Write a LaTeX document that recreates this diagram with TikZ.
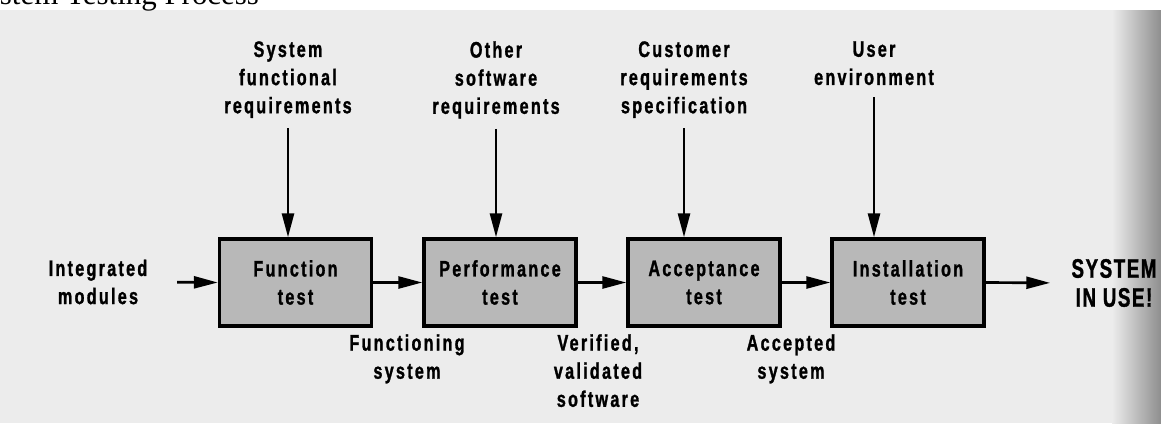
\documentclass[tikz,border=0pt]{standalone}
\usepackage{fontspec}
\setmainfont{Liberation Serif}
\newfontfamily\lblfont{Liberation Sans}[UprightFont=* Bold, FakeStretch=0.72, FakeBold=1.2, LetterSpace=10]
\newfontfamily\endfont{Liberation Sans}[UprightFont=* Bold, FakeStretch=0.7, FakeBold=1.2, LetterSpace=6]
\usepackage{tikz}
\usetikzlibrary{arrows.meta}
\definecolor{paper}{HTML}{ECECEC}
\definecolor{boxgray}{HTML}{B8B8B8}
\definecolor{edge}{HTML}{8E8E8E}

\begin{document}
\begin{tikzpicture}[
        x=0.025cm, y=-0.025cm,
        font=\lblfont\fontsize{16}{20}\selectfont,
        testbox/.style={draw, line width=2.4pt, fill=boxgray, align=center, minimum width=3.8cm, minimum height=2.175cm, inner sep=0pt},
        lbl/.style={align=center, inner sep=0pt},
        line/.style={line width=1.9pt, -{Triangle[length=17pt, width=8.5pt]}}
    ]

    % PAGE
    \useasboundingbox (0,0) rectangle (1161,423);
    \clip (0,0) rectangle (1161,423);
    \fill[white] (0,0) rectangle (1161,10);
    \fill[paper] (0,10) rectangle (1161,423);
    \shade[left color=paper, right color=edge] (1112,10) rectangle (1161,423);

    % TITLE
    \node[anchor=base west, inner sep=0pt, font=\rmfamily\fontsize{22}{24}\selectfont] (title) at (-33,4) {System Testing Process};

    % TESTS
    \node[testbox] (function) at (295.5,282.5) {Function\\ test};
    \node[testbox] (perform) at (500,282.5) {Performance\\ test};
    \node[testbox] (accept) at (704,282.5) {Acceptance\\ test};
    \node[testbox] (install) at (908,282.5) {Installation\\ test};

    % INPUTS
    \node[lbl, anchor=north] (sysreq) at (288,41) {System\\ functional\\ requirements};
    \node[lbl, anchor=north] (otherreq) at (496,41) {Other\\ software\\ requirements};
    \node[lbl, anchor=north] (custreq) at (684,41) {Customer\\ requirements\\ specification};
    \node[lbl, anchor=north] (userenv) at (874,41) {User\\ environment};

    % START AND END
    \node[lbl] (modules) at (98,282) {Integrated\\ modules};
    \node[lbl, font=\endfont\fontsize{19}{20.6}\selectfont] (inuse) at (1114,283) {SYSTEM\\ IN USE!};

    % OUTPUTS
    \node[lbl, anchor=north] (functioning) at (407,334) {Functioning\\ system};
    \node[lbl, anchor=north] (verified) at (598,334) {Verified,\\ validated\\ software};
    \node[lbl, anchor=north] (accepted) at (791,334) {Accepted\\ system};

    % MAIN FLOW
    \draw[line, shorten <=21] (modules.east) -- (function.west);
    \draw[line] (function) -- (perform);
    \draw[line] (perform) -- (accept);
    \draw[line] (accept) -- (install);
    \draw[line, shorten >=15] (install.east) -- (inuse.west);

    % REQUIREMENTS INTO TESTS
    \draw[line] ([yshift=-0.25cm]sysreq.south) -- (sysreq.south |- function.north);
    \draw[line] ([yshift=-0.25cm]otherreq.south) -- (otherreq.south |- perform.north);
    \draw[line] ([yshift=-0.25cm]custreq.south) -- (custreq.south |- accept.north);
    \draw[line] ([yshift=-0.3cm]userenv.south) -- (userenv.south |- install.north);

\end{tikzpicture}
\end{document}
